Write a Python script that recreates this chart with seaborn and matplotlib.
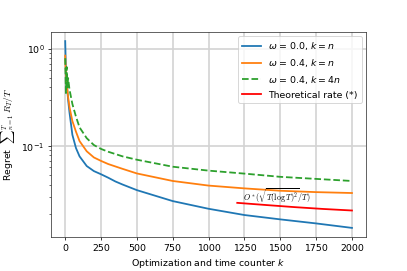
import numpy as np
import pandas as pd
import matplotlib
matplotlib.use("Agg")
import matplotlib.pyplot as plt
import seaborn as sns

k_blue = [0, 5, 10, 20, 30, 50, 75, 100, 150, 200, 250, 300, 350, 400, 500, 750, 1000, 1250, 1500, 1750, 2000]
v_blue = [1.2, 0.6, 0.45, 0.3, 0.22, 0.13, 0.095, 0.078, 0.062, 0.055, 0.051, 0.047, 0.043, 0.040, 0.035,
          0.027, 0.0225, 0.0194, 0.0175, 0.0159, 0.0143]

k_orange = [0, 5, 10, 20, 30, 50, 75, 100, 150, 200, 250, 300, 400, 500, 750, 1000, 1250, 1500, 1750, 2000]
v_orange = [0.85, 0.55, 0.45, 0.32, 0.25, 0.18, 0.14, 0.112, 0.088, 0.076, 0.07, 0.065, 0.058, 0.052,
            0.0435, 0.039, 0.0365, 0.0345, 0.0334, 0.0327]

k_green = [0, 5, 10, 15, 20, 30, 50, 75, 100, 150, 200, 250, 300, 400, 500, 750, 1000, 1250, 1500, 1750, 2000]
v_green = [0.8, 0.35, 0.65, 0.4, 0.5, 0.38, 0.27, 0.2, 0.155, 0.12, 0.102, 0.093, 0.087, 0.078, 0.072,
           0.061, 0.0556, 0.0518, 0.048, 0.0457, 0.0435]

k_theory = [1200, 1400, 1600, 1800, 2000]
v_theory = [0.0259, 0.0246, 0.0234, 0.0224, 0.0216]

labels = [r"$\omega$ = 0.0, $k = n$", r"$\omega$ = 0.4, $k = n$", r"$\omega$ = 0.4, $k = 4n$", "Theoretical rate (*)"]

fig, ax = plt.subplots(figsize=(6, 4), dpi=407 / 6)
fig.subplots_adjust(left=0.125, right=0.9, bottom=0.125, top=0.882)

lw = 1.9
sns.lineplot(x=k_blue, y=v_blue, ax=ax, color="tab:blue", label=labels[0], linewidth=lw)
sns.lineplot(x=k_orange, y=v_orange, ax=ax, color="tab:orange", label=labels[1], linewidth=lw)
sns.lineplot(x=k_green, y=v_green, ax=ax, color="tab:green", label=labels[2], linewidth=lw, linestyle="--")
sns.lineplot(x=k_theory, y=v_theory, ax=ax, color="red", label=labels[3], linewidth=lw)

ax.set_yscale("log")
ax.set_ylim(0.0115, 1.5)
ax.grid(True, which="major", color="#d4d4d4", linewidth=1.8)
ax.set_axisbelow(True)
for s in ax.spines.values():
    s.set_color("#333333")
ax.set_xlabel(r"Optimization and time counter $k$")
ax.set_ylabel(r"Regret  ${\sum}_{n=1}^{T}\, R_T / T$", math_fontfamily="cm")
ax.text(1240, 0.0243, r"$O^*(\sqrt{T(\log T)^2}/T)$", fontsize=8.5, math_fontfamily="cm",
        va="bottom", ha="left")
ax.legend(loc="upper right")

fig.savefig("out.png", dpi=407 / 6)
